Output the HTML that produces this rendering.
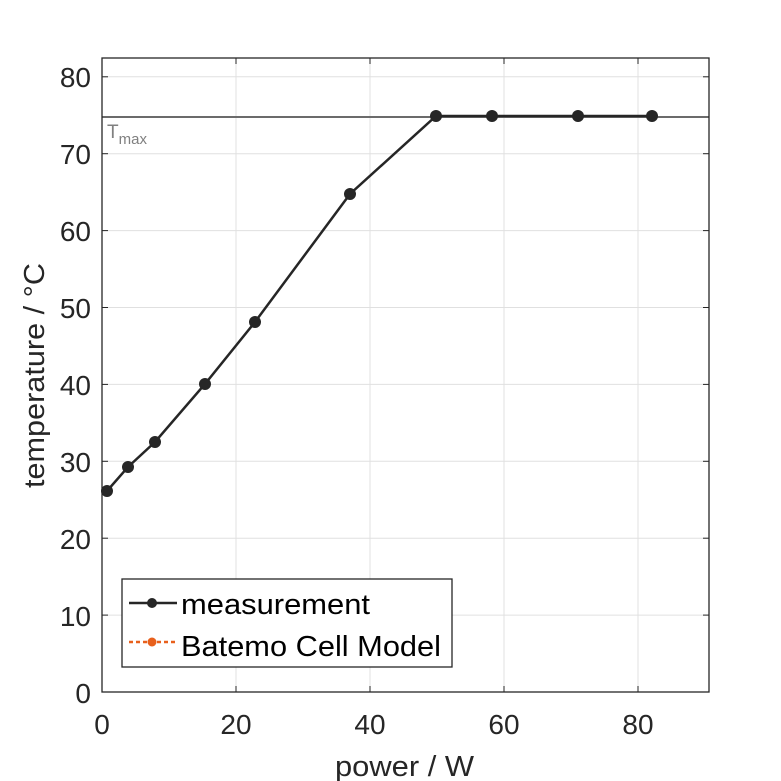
<!DOCTYPE html>
<html><head><style>body{margin:0;background:#fff}svg{display:block}</style></head><body>
<svg width="781" height="781" xmlns="http://www.w3.org/2000/svg" font-family="Liberation Sans, sans-serif">
<rect width="781" height="781" fill="#fff"/>
<g stroke="#e0e0e0" stroke-width="1">
<line x1="236" y1="58" x2="236" y2="692"/><line x1="370" y1="58" x2="370" y2="692"/><line x1="504" y1="58" x2="504" y2="692"/><line x1="638" y1="58" x2="638" y2="692"/>
<line x1="102" y1="615.1" x2="709" y2="615.1"/><line x1="102" y1="538.2" x2="709" y2="538.2"/><line x1="102" y1="461.3" x2="709" y2="461.3"/><line x1="102" y1="384.4" x2="709" y2="384.4"/><line x1="102" y1="307.5" x2="709" y2="307.5"/><line x1="102" y1="230.6" x2="709" y2="230.6"/><line x1="102" y1="153.7" x2="709" y2="153.7"/><line x1="102" y1="76.8" x2="709" y2="76.8"/>
</g>
<line x1="102" y1="117" x2="709" y2="117" stroke="#6b6b6b" stroke-width="2"/>
<text x="107" y="138" font-size="19" fill="#808080">T<tspan font-size="15" dy="6">max</tspan></text>
<rect x="102" y="58" width="607" height="634" fill="none" stroke="#262626" stroke-width="1.3"/>
<g stroke="#262626" stroke-width="1">
<line x1="236" y1="692" x2="236" y2="686"/><line x1="370" y1="692" x2="370" y2="686"/><line x1="504" y1="692" x2="504" y2="686"/><line x1="638" y1="692" x2="638" y2="686"/>
<line x1="236" y1="58" x2="236" y2="64"/><line x1="370" y1="58" x2="370" y2="64"/><line x1="504" y1="58" x2="504" y2="64"/><line x1="638" y1="58" x2="638" y2="64"/>
<line x1="102" y1="615.1" x2="108" y2="615.1"/><line x1="102" y1="538.2" x2="108" y2="538.2"/><line x1="102" y1="461.3" x2="108" y2="461.3"/><line x1="102" y1="384.4" x2="108" y2="384.4"/><line x1="102" y1="307.5" x2="108" y2="307.5"/><line x1="102" y1="230.6" x2="108" y2="230.6"/><line x1="102" y1="153.7" x2="108" y2="153.7"/><line x1="102" y1="76.8" x2="108" y2="76.8"/>
<line x1="709" y1="615.1" x2="703" y2="615.1"/><line x1="709" y1="538.2" x2="703" y2="538.2"/><line x1="709" y1="461.3" x2="703" y2="461.3"/><line x1="709" y1="384.4" x2="703" y2="384.4"/><line x1="709" y1="307.5" x2="703" y2="307.5"/><line x1="709" y1="230.6" x2="703" y2="230.6"/><line x1="709" y1="153.7" x2="703" y2="153.7"/><line x1="709" y1="76.8" x2="703" y2="76.8"/>
</g>
<g font-size="28" fill="#262626" text-anchor="end">
<text x="91" y="703">0</text><text x="91" y="626">10</text><text x="91" y="549">20</text><text x="91" y="472">30</text><text x="91" y="395">40</text><text x="91" y="318">50</text><text x="91" y="241">60</text><text x="91" y="164">70</text><text x="91" y="87">80</text>
</g>
<g font-size="28" fill="#262626" text-anchor="middle">
<text x="102" y="734">0</text><text x="236" y="734">20</text><text x="370" y="734">40</text><text x="504" y="734">60</text><text x="638" y="734">80</text>
</g>
<g font-size="29" fill="#262626">
<text x="335" y="776" textLength="139" lengthAdjust="spacingAndGlyphs">power / W</text>
<text transform="translate(44,488) rotate(-90)" textLength="225" lengthAdjust="spacingAndGlyphs">temperature / °C</text>
</g>
<polyline fill="none" stroke="#262626" stroke-width="2.5" points="107,491 128,467 155,442 205,384 255,322 350,194 436,116 492,116 578,116 652,116"/>
<g fill="#262626">
<circle cx="107" cy="491" r="6"/><circle cx="128" cy="467" r="6"/><circle cx="155" cy="442" r="6"/><circle cx="205" cy="384" r="6"/><circle cx="255" cy="322" r="6"/><circle cx="350" cy="194" r="6"/><circle cx="436" cy="116" r="6"/><circle cx="492" cy="116" r="6"/><circle cx="578" cy="116" r="6"/><circle cx="652" cy="116" r="6"/>
</g>
<rect x="122" y="579" width="330" height="88" fill="#fff" stroke="#262626" stroke-width="1.3"/>
<line x1="129" y1="603" x2="177" y2="603" stroke="#262626" stroke-width="2.5"/>
<circle cx="152" cy="603" r="5" fill="#262626"/>
<line x1="129" y1="642" x2="177" y2="642" stroke="#e8601c" stroke-width="2.5" stroke-dasharray="4,3"/>
<circle cx="152" cy="642" r="4.5" fill="#e8601c"/>
<text x="181" y="614" font-size="29" fill="#000" textLength="189" lengthAdjust="spacingAndGlyphs">measurement</text>
<text x="181" y="656" font-size="29" fill="#000" textLength="260" lengthAdjust="spacingAndGlyphs">Batemo Cell Model</text>
</svg>
</body></html>
